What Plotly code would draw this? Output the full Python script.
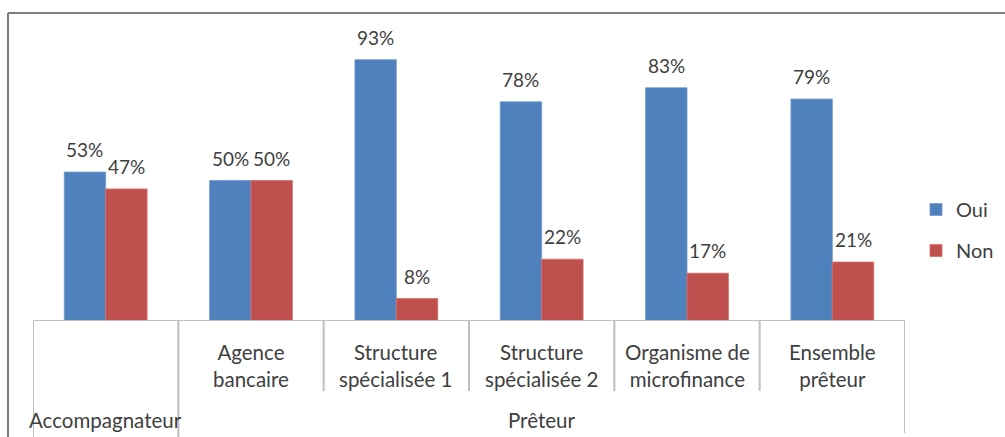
import plotly.graph_objects as go

# ---- data ----
categories = ["", "Agence<br>bancaire", "Structure<br>spécialisée 1", "Structure<br>spécialisée 2",
              "Organisme de<br>microfinance", "Ensemble<br>prêteur"]
groups = ["Accompagnateur", "Prêteur"]
group_sizes = [1, 5]
oui = [53, 50, 93, 78, 83, 79]
non = [47, 50, 8, 22, 17, 21]
series_names = ["Oui", "Non"]

BLUE = "#4F81BD"
RED = "#C0504D"
TXT = "#404040"
LINE = "#BFBFBF"
FONT = "Lato"

W, H = 1005, 437
ML, MR, MT, MB = 33, 100, 40, 116
PW, PH = W - ML - MR, H - MT - MB

def px_to_py(py):
    # pixel y -> paper y
    return (H - MB - py) / PH

def px_to_px(px):
    return (px - ML) / PW

x = list(range(len(categories)))
bw = (1 - 0.43) / 2

fig = go.Figure()
fig.add_trace(go.Bar(x=x, y=oui, name=series_names[0], marker=dict(color=BLUE, line=dict(color="#6E9AD0", width=0.8)),
                     legendgroup="a"))
fig.add_trace(go.Bar(x=x, y=non, name=series_names[1], marker=dict(color=RED, line=dict(color="#D06E6B", width=0.8)),
                     legendgroup="b"))

annotations = []
for i in x:
    for val, off in ((oui[i], -bw / 2), (non[i], bw / 2)):
        annotations.append(dict(x=i + off, y=val, xref="x", yref="y", text=f"{val}%", showarrow=False,
                                yanchor="bottom", yshift=9, font=dict(family=FONT, size=19, color=TXT)))
    if categories[i]:
        annotations.append(dict(x=i, y=px_to_py(365), xref="x", yref="paper", text=categories[i], showarrow=False,
                                yanchor="middle", font=dict(family=FONT, size=20.5, color=TXT)))

# group labels
start = 0
bounds = [-0.5]
for g, n in zip(groups, group_sizes):
    cx = start + (n - 1) / 2
    annotations.append(dict(x=cx, y=px_to_py(420), xref="x", yref="paper", text=g, showarrow=False,
                            yanchor="middle", font=dict(family=FONT, size=20.5, color=TXT)))
    start += n
    bounds.append(start - 0.5)

shapes = []
# baseline
shapes.append(dict(type="line", xref="x", yref="y", x0=-0.5, x1=len(x) - 0.5, y0=0, y1=0,
                   line=dict(color=LINE, width=2)))
# category ticks
for i in range(len(x) + 1):
    b = i - 0.5
    long = b in bounds
    y1 = px_to_py(437 if b != bounds[-1] else 433) if long else px_to_py(391)
    shapes.append(dict(type="line", xref="x", yref="paper", x0=b, x1=b, y0=0, y1=y1,
                       line=dict(color=LINE, width=2)))
# chart frame (top and left)
shapes.append(dict(type="line", xref="paper", yref="paper", x0=px_to_px(8), x1=px_to_px(1010),
                   y0=px_to_py(13), y1=px_to_py(13), line=dict(color="#7F7F7F", width=2)))
shapes.append(dict(type="line", xref="paper", yref="paper", x0=px_to_px(8), x1=px_to_px(8),
                   y0=px_to_py(13), y1=px_to_py(440), line=dict(color="#7F7F7F", width=2)))

fig.update_layout(
    width=W, height=H,
    margin=dict(l=ML, r=MR, t=MT, b=MB, pad=0, autoexpand=False),
    paper_bgcolor="white", plot_bgcolor="white",
    barmode="group", bargap=0.43, bargroupgap=0,
    xaxis=dict(range=[-0.5, len(x) - 0.5], showticklabels=False, showgrid=False, zeroline=False,
               showline=False, ticks=""),
    yaxis=dict(range=[0, 100], visible=False, showgrid=False, zeroline=False),
    legend=dict(xref="container", yref="container", x=916 / W, y=1 - 190 / H, xanchor="left", yanchor="top",
                traceorder="grouped", tracegroupgap=12,
                font=dict(family=FONT, size=20, color=TXT), itemwidth=30, bgcolor="rgba(0,0,0,0)"),
    annotations=annotations,
    shapes=shapes,
    font=dict(family=FONT, color=TXT),
)

fig.write_html("out.html", config={"displayModeBar": False},
               post_script="document.body.style.margin='0px';document.body.style.overflow='hidden';")
